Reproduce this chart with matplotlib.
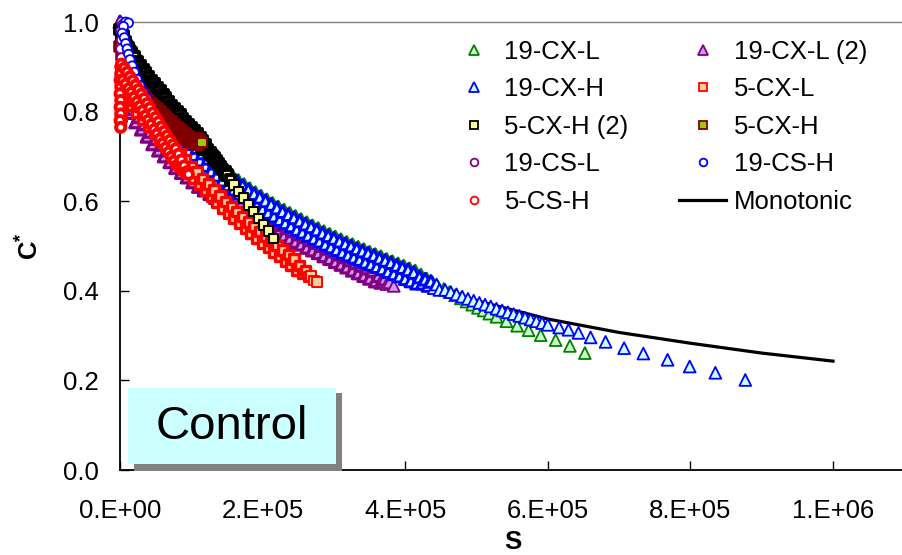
import numpy as np
import matplotlib
matplotlib.use("Agg")
import matplotlib.pyplot as plt
from matplotlib.lines import Line2D
from matplotlib.patches import Rectangle

plt.rcParams['font.family'] = ['Liberation Sans', 'DejaVu Sans']
plt.rcParams['mathtext.fontset'] = 'custom'
plt.rcParams['mathtext.rm'] = 'Liberation Sans'
plt.rcParams['mathtext.bf'] = 'Liberation Sans:bold'

# S values in thousands, C*
s_19cxl = [0, 5, 10, 16, 22, 30, 40, 50, 60, 70, 80, 90, 100, 110, 120, 130, 140, 150, 158, 166,
           174, 182, 190, 198, 206, 214, 222, 230, 238, 246, 254, 262, 270, 278, 286, 294, 302, 310,
           318, 326, 334, 342, 350, 358, 366, 374, 382, 390, 398, 406, 414, 422, 430, 438, 446, 454,
           462, 470, 478, 486, 494, 502, 510, 518, 528, 542, 557, 573, 590, 611, 631, 652]
c_19cxl = [1.0, 0.965, 0.938, 0.913, 0.892, 0.866, 0.841, 0.818, 0.797, 0.778, 0.762, 0.747, 0.734,
           0.719, 0.704, 0.690, 0.677, 0.666, 0.656, 0.646, 0.637, 0.628, 0.619, 0.611, 0.603, 0.595,
           0.587, 0.580, 0.573, 0.566, 0.559, 0.552, 0.545, 0.539, 0.532, 0.526, 0.520, 0.514, 0.508,
           0.503, 0.497, 0.492, 0.486, 0.481, 0.476, 0.470, 0.465, 0.460, 0.455, 0.449, 0.444, 0.435,
           0.426, 0.418, 0.410, 0.404, 0.397, 0.390, 0.383, 0.376, 0.369, 0.362, 0.356, 0.349, 0.342,
           0.332, 0.322, 0.312, 0.301, 0.290, 0.277, 0.261]

s_19cxl2 = [2, 6, 10, 14, 18, 22, 26, 30, 34, 38, 42, 46, 50, 54, 58, 62, 66, 70, 74, 78, 82, 86,
            90, 94, 98, 102, 106, 110, 114, 118, 122, 126, 130, 134, 138, 142, 146, 150, 154, 158,
            162, 166, 170, 174, 178, 182, 186, 190, 194, 198, 202, 206, 210, 214, 218, 222, 226, 230,
            234, 238, 242, 246, 250, 254, 258, 262, 266, 270, 274, 278, 282, 286, 290, 294, 298, 302,
            306, 310, 314, 318, 322, 326, 330, 334, 338, 342, 346, 350, 354, 358, 362, 366, 370, 374,
            378, 384]
c_19cxl2 = [0.852, 0.821, 0.829, 0.798, 0.807, 0.777, 0.789, 0.761, 0.773, 0.745, 0.756, 0.728,
            0.740, 0.714, 0.727, 0.701, 0.714, 0.688, 0.702, 0.675, 0.689, 0.664, 0.679, 0.654,
            0.669, 0.643, 0.658, 0.633, 0.649, 0.625, 0.641, 0.617, 0.632, 0.608, 0.624, 0.600,
            0.616, 0.593, 0.609, 0.586, 0.602, 0.579, 0.596, 0.572, 0.589, 0.565, 0.582, 0.558,
            0.575, 0.552, 0.568, 0.545, 0.561, 0.538, 0.554, 0.531, 0.548, 0.524, 0.541, 0.517,
            0.534, 0.510, 0.527, 0.504, 0.521, 0.497, 0.514, 0.491, 0.508, 0.485, 0.501, 0.478,
            0.495, 0.472, 0.489, 0.465, 0.482, 0.459, 0.476, 0.453, 0.469, 0.446, 0.463, 0.440,
            0.457, 0.434, 0.451, 0.428, 0.445, 0.422, 0.434, 0.419, 0.426, 0.415, 0.419, 0.411]

s_19cxh = [0, 3, 6, 9, 12, 16, 20, 25, 30, 36, 42, 48, 54, 60, 66, 72, 78, 84, 90, 96,
           100, 104, 108, 112, 116, 120, 124, 128, 132, 136, 140, 144, 148, 152, 156, 160, 164, 168,
           172, 176, 180, 184, 188, 192, 196, 200, 204, 208, 212, 216, 220, 224, 228, 232, 236, 240,
           244, 248, 252, 256, 260, 264, 268, 272, 276, 280, 284, 288, 292, 296, 300, 304, 308, 312,
           316, 320, 324, 328, 332, 336, 340, 344, 348, 352, 356, 360, 364, 368, 372, 376, 380, 384,
           388, 392, 396, 400, 404, 408, 412, 416, 420, 424, 428, 432, 436, 440, 444, 448,
           456, 464, 472, 480, 488, 496, 504, 512, 520, 528, 536, 544, 552, 560, 568, 576, 584, 592,
           600, 616, 629, 643, 660, 681, 707, 734, 768, 799, 835, 877]
c_19cxh = [1.000, 0.978, 0.958, 0.940, 0.925, 0.908, 0.893, 0.877, 0.862, 0.847, 0.832, 0.818, 0.805,
           0.793, 0.781, 0.770, 0.759, 0.748, 0.738, 0.728,
           0.732, 0.704, 0.720, 0.692, 0.708, 0.680, 0.696, 0.668, 0.685, 0.658, 0.674, 0.647, 0.664,
           0.637, 0.654, 0.627, 0.645, 0.618, 0.635, 0.609, 0.626, 0.599, 0.617, 0.591, 0.609, 0.583,
           0.601, 0.575, 0.593, 0.567, 0.585, 0.559, 0.577, 0.552, 0.570, 0.545, 0.563, 0.537, 0.556,
           0.531, 0.549, 0.524, 0.543, 0.517, 0.536, 0.511, 0.529, 0.504, 0.523, 0.498, 0.517, 0.492,
           0.511, 0.486, 0.505, 0.480, 0.500, 0.475, 0.494, 0.470, 0.489, 0.464, 0.484, 0.459, 0.479,
           0.454, 0.473, 0.449, 0.468, 0.443, 0.463, 0.438, 0.457, 0.433, 0.452, 0.427, 0.447, 0.422,
           0.441, 0.417, 0.431, 0.417, 0.426, 0.412, 0.421, 0.406, 0.414, 0.402,
           0.402, 0.397, 0.392, 0.387, 0.382, 0.378, 0.373, 0.369, 0.365, 0.360, 0.356, 0.352, 0.348,
           0.344, 0.340, 0.336, 0.332, 0.328, 0.324, 0.318, 0.313, 0.306, 0.296, 0.286, 0.272, 0.260,
           0.246, 0.231, 0.217, 0.201]

s_5cxl = [1, 1, 2, 1, 2, 1, 2, 1,
          4, 8, 12, 16, 20, 24, 28, 32, 36, 40, 44, 48, 52, 56, 60, 64, 68, 72, 76, 80, 84, 88, 92,
          96, 100, 104, 108, 112, 116, 120, 124, 128, 132, 136, 140, 144, 148, 152, 156, 160, 164,
          168, 172, 176, 180, 184, 188, 192, 196, 200, 204, 208, 212, 216, 220, 224, 228, 232, 236,
          240, 244, 248, 252, 256, 260, 264, 268, 272, 276]
c_5cxl = [0.880, 0.865, 0.850, 0.835, 0.820, 0.805, 0.790, 0.775,
          0.857, 0.829, 0.842, 0.814, 0.826, 0.798, 0.811, 0.783, 0.795, 0.767, 0.780, 0.752, 0.764,
          0.737, 0.750, 0.723, 0.736, 0.708, 0.721, 0.694, 0.707, 0.680, 0.692, 0.665, 0.678, 0.651,
          0.665, 0.638, 0.651, 0.625, 0.638, 0.612, 0.625, 0.598, 0.612, 0.585, 0.599, 0.573, 0.588,
          0.562, 0.577, 0.551, 0.566, 0.540, 0.554, 0.529, 0.543, 0.518, 0.532, 0.507, 0.522, 0.497,
          0.512, 0.487, 0.501, 0.476, 0.491, 0.466, 0.481, 0.456, 0.471, 0.446, 0.457, 0.438, 0.445,
          0.431, 0.433, 0.423, 0.420]

s_5cxh2 = [0, 2, 4, 6, 8, 10, 12, 14, 16, 18, 20, 22, 24, 26, 28, 30, 32, 34, 36, 38, 40, 42, 44,
           46, 48, 50, 52, 54, 56, 58, 60, 62, 64, 66, 68, 70, 72, 74, 76, 78, 80, 82, 84, 86, 88,
           90, 92, 94, 96, 98, 100, 102, 104, 106, 108, 110, 112, 114, 116, 118, 120,
           123, 126, 129, 132, 135, 138, 141, 144, 147, 150, 155, 160, 166, 173, 180, 187, 194, 201,
           208, 215]
c_5cxh2 = [0.983, 0.960, 0.969, 0.946, 0.955, 0.933, 0.942, 0.921, 0.932, 0.911, 0.922, 0.901,
           0.912, 0.892, 0.903, 0.882, 0.894, 0.874, 0.886, 0.866, 0.878, 0.858, 0.870, 0.850,
           0.862, 0.842, 0.854, 0.834, 0.846, 0.826, 0.838, 0.818, 0.830, 0.810, 0.822, 0.802,
           0.814, 0.794, 0.807, 0.787, 0.799, 0.780, 0.792, 0.772, 0.785, 0.765, 0.778, 0.758,
           0.771, 0.751, 0.764, 0.744, 0.757, 0.737, 0.750, 0.730, 0.742, 0.723, 0.735, 0.715, 0.726,
           0.714, 0.708, 0.702, 0.696, 0.690, 0.684, 0.678, 0.671, 0.665, 0.658, 0.647, 0.636, 0.622,
           0.607, 0.592, 0.577, 0.561, 0.547, 0.533, 0.517]

s_5cxh = [0, 2, 4, 6, 8, 10, 12, 14, 16, 18, 20, 22, 24, 26, 28, 30, 32, 34, 36, 38, 40, 42, 44, 46,
          48, 50, 52, 54, 56, 58, 60, 62, 64, 66, 68, 70, 72, 74, 76, 78, 80, 82, 84, 86, 88, 90, 92,
          94, 96, 98, 100, 102, 104, 106, 108, 110, 112, 115]
c_5cxh = [0.945, 0.925, 0.925, 0.907, 0.910, 0.887, 0.891, 0.875, 0.879, 0.863, 0.862, 0.848, 0.853,
          0.839, 0.844, 0.830, 0.837, 0.824, 0.831, 0.818, 0.825, 0.811, 0.818, 0.805, 0.812, 0.799,
          0.806, 0.793, 0.800, 0.787, 0.794, 0.781, 0.788, 0.775, 0.782, 0.769, 0.777, 0.764, 0.771,
          0.758, 0.765, 0.753, 0.760, 0.748, 0.755, 0.743, 0.750, 0.738, 0.745, 0.733, 0.740, 0.732,
          0.740, 0.728, 0.739, 0.728, 0.734, 0.731]

s_19csl = [2, 4, 1, 2, 1, 2, 1, 0, 1, 0, 1, 0, 0]
c_19csl = [1.0, 0.995, 0.98, 0.96, 0.94, 0.92, 0.90, 0.88, 0.86, 0.84, 0.82, 0.79, 0.763]

s_19csh = [8, 12, 5, 3, 6, 8, 10, 12, 14, 17, 20, 24, 28, 33, 38]
c_19csh = [1.0, 0.998, 0.99, 0.975, 0.965, 0.952, 0.94, 0.928, 0.916, 0.902, 0.888, 0.872, 0.858,
           0.843, 0.83]

s_5csh = [1, 1, 0, 1, 0, 1, 0, 1, 0, 1,
          2, 4, 6, 8, 10, 12, 14, 16, 18, 20, 22, 24, 26, 28, 30, 32, 34, 36, 38, 40, 42, 44, 46, 48,
          50, 52, 54, 56, 58, 60, 62, 64, 66, 68, 70, 72, 74, 76, 78, 80, 82, 84, 86, 88, 90, 92, 94,
          96]
c_5csh = [0.900, 0.885, 0.870, 0.855, 0.840, 0.825, 0.810, 0.795, 0.780, 0.765,
          0.906, 0.870, 0.897, 0.861, 0.888, 0.851, 0.878, 0.842, 0.869, 0.832, 0.859, 0.822, 0.849,
          0.812, 0.839, 0.802, 0.829, 0.791, 0.818, 0.781, 0.808, 0.771, 0.797, 0.760, 0.787, 0.750,
          0.777, 0.739, 0.766, 0.729, 0.756, 0.719, 0.746, 0.709, 0.736, 0.699, 0.726, 0.690, 0.717,
          0.680, 0.705, 0.675, 0.692, 0.669, 0.679, 0.663, 0.666, 0.660]

s_mono = [0, 100, 200, 300, 400, 500, 600, 700, 800, 900, 1000]
c_mono = [1.0, 0.735, 0.585, 0.49, 0.428, 0.378, 0.337, 0.307, 0.283, 0.261, 0.243]

xtick_labels = ['0.E+00', '2.E+05', '4.E+05', '6.E+05', '8.E+05', '1.E+06']

W, H = 903, 555
fig = plt.figure(figsize=(W / 100, H / 100), dpi=100)
ax = fig.add_axes([120 / W, 1 - 470 / H, 783 / W, 448 / H])

# name, S, C, marker, size, edge, face, edge width, heavy-edge width, S below which points pile up
series = [
    ('19-CX-L', s_19cxl, c_19cxl, '^', 8.5, '#008000', '#ccffcc', 1.3, 2.0, 440),
    ('19-CX-L (2)', s_19cxl2, c_19cxl2, '^', 8.5, '#800080', '#cc99ee', 1.3, 2.3, 372),
    ('19-CX-H', s_19cxh, c_19cxh, '^', 8.5, '#0000ff', '#ccffff', 1.3, 2.1, 440),
    ('5-CX-L', s_5cxl, c_5cxl, 's', 6.8, '#ff0000', '#ffcc99', 1.4, 2.4, 262),
    ('5-CX-H (2)', s_5cxh2, c_5cxh2, 's', 6.8, '#000000', '#ffff99', 1.5, 2.8, 158),
    ('5-CX-H', s_5cxh, c_5cxh, 's', 6.8, '#800000', '#99cc00', 1.5, 2.6, 113),
    ('19-CS-L', s_19csl, c_19csl, 'o', 6.5, '#800080', '#ffffff', 1.3, 1.3, 0),
    ('19-CS-H', s_19csh, c_19csh, 'o', 6.5, '#0000ff', '#ffffff', 1.3, 1.3, 0),
    ('5-CS-H', s_5csh, c_5csh, 'o', 6.5, '#ff0000', '#ffffff', 1.6, 2.8, 97),
]

ax.set_xlim(0, 783 / 713 * 1e6)
ax.set_ylim(0, 1.0)

ax.plot(np.array(s_mono) * 1e3, c_mono, color='black', lw=2.3, zorder=1, clip_on=False)

handles = {}
for i, (name, s, c, mk, ms, ec, fc, mw, heavy, s_dense) in enumerate(series):
    s = np.array(s)
    lws = np.where(s < s_dense, heavy, mw)
    ax.scatter(s * 1e3, c, s=ms ** 2, marker=mk, edgecolors=ec, facecolors=fc,
               linewidths=lws, zorder=2 + i, clip_on=False)
    handles[name] = Line2D([], [], linestyle='none', marker=mk, ms=ms * 0.85, mec=ec, mfc=fc,
                           mew=1.3)
handles['Monotonic'] = Line2D([], [], color='black', lw=2.3)

ax.set_xticks(np.arange(0, 1.01e6, 2e5))
ax.set_xticklabels(xtick_labels)
ax.set_yticks(np.arange(0, 1.01, 0.2))
ax.set_yticklabels([f'{v:.1f}' for v in np.arange(0, 1.01, 0.2)])
ax.tick_params(direction='in', length=6.5, width=1, labelsize=18.5, colors='black')
ax.tick_params(axis='y', pad=15.5)
ax.tick_params(axis='x', pad=21)

ax.spines['right'].set_visible(False)
ax.spines['top'].set_color('#808080')
ax.spines['top'].set_linewidth(1)
for sp in ['left', 'bottom']:
    ax.spines[sp].set_linewidth(1.3)
    ax.spines[sp].set_color('black')

fig.text(513 / W, 1 - 542 / H, 'S', fontsize=18.5, fontweight='bold', ha='center', va='center')
fig.text(30 / W, 1 - 246 / H, r'$\mathbf{C^{*}}$', fontsize=18.5, rotation=90,
         ha='center', va='center')

order = ['19-CX-L', '19-CX-H', '5-CX-H (2)', '19-CS-L', '5-CS-H',
         '19-CX-L (2)', '5-CX-L', '5-CX-H', '19-CS-H', 'Monotonic']
fig.legend([handles[k] for k in order], order, ncol=2, loc='upper left',
           bbox_to_anchor=(450 / W, 1 - 40 / H), frameon=False, fontsize=18.5,
           borderpad=0, borderaxespad=0, handlelength=1.83, handletextpad=0.29,
           columnspacing=1.96, labelspacing=0.525)

# Control label box with shadow
fig.add_artist(Rectangle((134 / W, 1 - 471 / H), 208 / W, 78 / H, transform=fig.transFigure,
                         facecolor='#808080', edgecolor='none', zorder=5))
fig.add_artist(Rectangle((128 / W, 1 - 464 / H), 208 / W, 76 / H, transform=fig.transFigure,
                         facecolor='#ccffff', edgecolor='none', zorder=6))
fig.text(232 / W, 1 - 427 / H, 'Control', fontsize=34, ha='center', va='center', zorder=7)

fig.savefig('out.png', dpi=100)
